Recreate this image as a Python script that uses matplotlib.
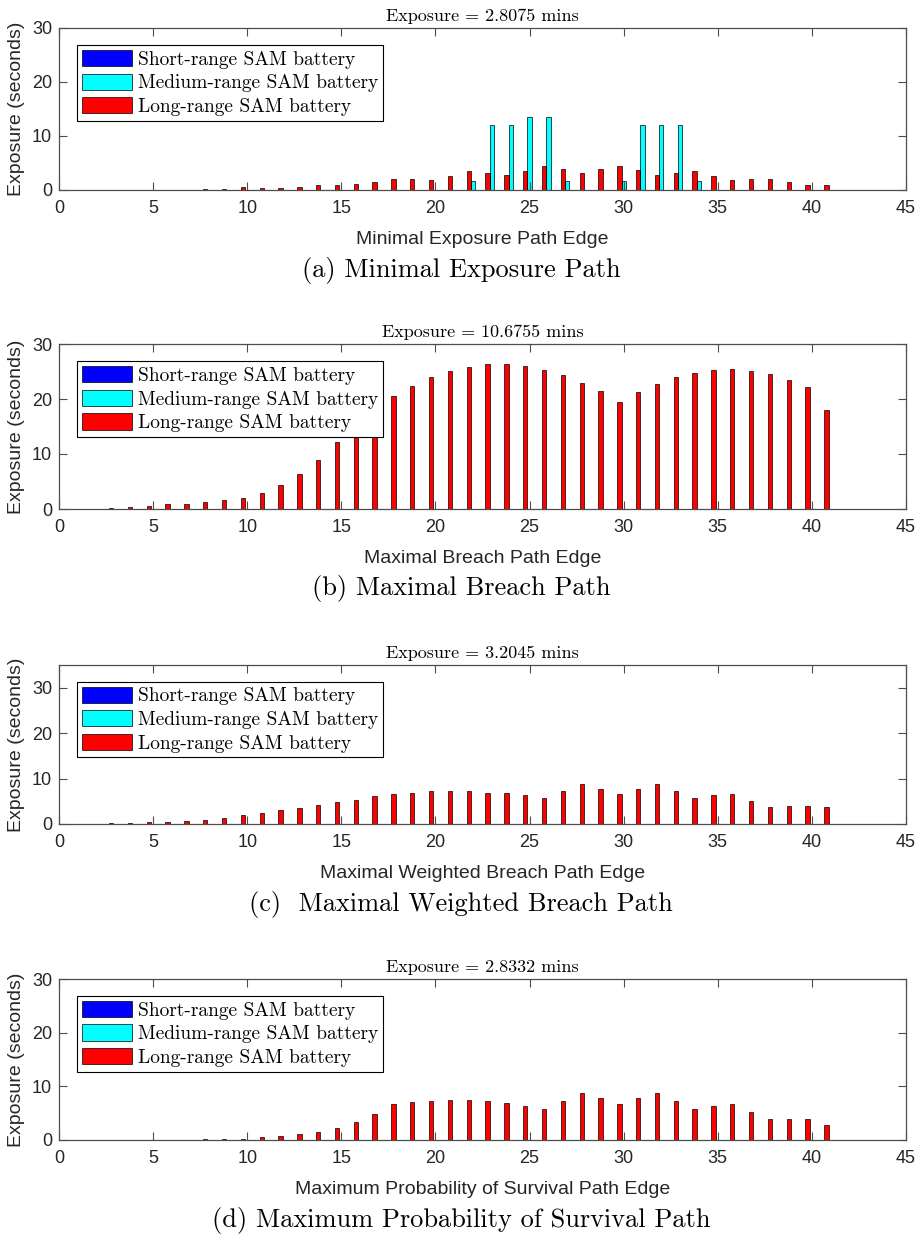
import matplotlib
matplotlib.use("Agg")
import matplotlib.pyplot as plt
import numpy as np

# path edges 1..41
edges = np.arange(1, 42)

series_names = ["Short-range SAM battery", "Medium-range SAM battery", "Long-range SAM battery"]

# (a) minimal exposure path
a_long = [0, 0, 0, 0, 0, 0, 0, 0.25, 0.25, 0.5, 0.45, 0.45, 0.6, 1.0, 1.0, 1.1, 1.5, 2.0, 2.0, 1.9,
          2.65, 3.5, 3.2, 2.85, 3.5, 4.45, 3.85, 3.2, 3.85, 4.45, 3.7, 2.85, 3.2, 3.5, 2.65, 1.9,
          2.0, 2.0, 1.5, 1.0, 1.0]
a_medium = [0, 0, 0, 0, 0, 0, 0, 0, 0, 0, 0, 0, 0, 0, 0, 0, 0, 0, 0, 0,
            0, 1.7, 12.0, 12.0, 13.6, 13.6, 1.7, 0, 0, 1.7, 12.0, 12.0, 12.0, 1.7, 0, 0,
            0, 0, 0, 0, 0]

# (b) maximal breach path
b_long = [0, 0, 0.2, 0.35, 0.6, 0.85, 1.0, 1.35, 1.7, 2.05, 3.0, 4.4, 6.4, 8.9, 12.15, 15.4, 18.0,
          20.6, 22.4, 24.0, 25.1, 25.8, 26.3, 26.3, 25.95, 25.3, 24.4, 22.9, 21.5, 19.5, 21.3,
          22.8, 24.0, 24.7, 25.2, 25.4, 25.1, 24.6, 23.5, 22.2, 18.05]

# (c) maximal weighted breach path
c_long = [0, 0, 0.2, 0.2, 0.35, 0.45, 0.65, 0.9, 1.25, 1.9, 2.35, 3.0, 3.45, 4.1, 4.8, 5.35, 6.1,
          6.55, 6.9, 7.2, 7.35, 7.2, 6.9, 6.75, 6.3, 5.7, 7.2, 8.7, 7.6, 6.55, 7.6, 8.7, 7.2,
          5.7, 6.3, 6.7, 5.0, 3.75, 3.95, 3.95, 3.75]

# (d) maximum probability of survival path
d_long = [0, 0, 0, 0, 0, 0, 0, 0.2, 0.2, 0.25, 0.5, 0.8, 1.2, 1.55, 2.25, 3.35, 4.8, 6.7, 7.05,
          7.25, 7.4, 7.4, 7.25, 6.85, 6.3, 5.75, 7.25, 8.85, 7.8, 6.7, 7.8, 8.85, 7.25, 5.75,
          6.3, 6.7, 5.2, 3.9, 3.9, 3.9, 2.8]

zeros = [0] * len(edges)

titles = ["Exposure = 2.8075 mins", "Exposure = 10.6755 mins",
          "Exposure = 3.2045 mins", "Exposure = 2.8332 mins"]
xlabels = ["Minimal Exposure Path Edge", "Maximal Breach Path Edge",
           "Maximal Weighted Breach Path Edge", "Maximum Probability of Survival Path Edge"]
captions = ["(a) Minimal Exposure Path", "(b) Maximal Breach Path",
            "(c)  Maximal Weighted Breach Path", "(d) Maximum Probability of Survival Path"]
ytops = [30, 30, 35, 30]

panels = [
    (zeros, a_medium, a_long),
    (zeros, zeros, b_long),
    (zeros, zeros, c_long),
    (zeros, zeros, d_long),
]

# pixel layout of the four axes (top, bottom)
W, H = 922, 1238
ax_left, ax_right = 59, 906
ax_rows = [(28, 190), (344, 509), (665, 824), (979, 1140)]

colors = {"short": "#0000ff", "medium": "#00ffff", "long": "#ff0000"}
serif = "cmr10"
sans = "Liberation Sans"
axcol = "#4d4d4d"
txtcol = "#262626"

fig = plt.figure(figsize=(W / 100, H / 100), dpi=100)

bw = 0.23
for i, (short, medium, long_) in enumerate(panels):
    top, bot = ax_rows[i]
    ax = fig.add_axes([ax_left / W, 1 - bot / H, (ax_right - ax_left) / W, (bot - top) / H])

    ax.bar(edges + bw, short, width=bw, color=colors["short"], edgecolor="black",
           linewidth=0.5, label=series_names[0])
    ax.bar(edges, medium, width=bw, color=colors["medium"], edgecolor="black",
           linewidth=0.5, label=series_names[1])
    ax.bar(edges - bw, long_, width=bw, color=colors["long"], edgecolor="black",
           linewidth=0.5, label=series_names[2])

    ax.set_xlim(0, 45)
    ax.set_ylim(0, ytops[i])
    ax.set_xticks(np.arange(0, 46, 5))
    ax.set_yticks(np.arange(0, ytops[i] + 1, 10))
    ax.tick_params(direction="in", top=True, right=True, length=6, width=0.8,
                   colors=axcol, labelcolor=txtcol, labelsize=13, pad=7)
    ax.tick_params(axis="y", pad=5)
    for lbl in ax.get_xticklabels() + ax.get_yticklabels():
        lbl.set_fontfamily(sans)
    for sp in ax.spines.values():
        sp.set_color(axcol)
        sp.set_linewidth(0.9)

    ax.set_title(titles[i], fontfamily=serif, fontsize=13, color="black", pad=5)
    ax.set_xlabel(xlabels[i], fontfamily=sans, fontsize=14, color=txtcol, labelpad=10)
    ax.set_ylabel("Exposure (seconds)", fontfamily=sans, fontsize=14, color=txtcol, labelpad=5)

    leg = ax.legend(loc="upper left", bbox_to_anchor=(0.021, 0.895), borderaxespad=0,
                    prop={"family": serif, "size": 14}, fancybox=False, framealpha=1,
                    edgecolor="black", handlelength=2.6, handleheight=0.9,
                    handletextpad=0.3, labelspacing=0.25, borderpad=0.25)
    leg.get_frame().set_linewidth(0.8)

    fig.text(0.5, 1 - (bot + 80) / H, captions[i], ha="center", va="center",
             fontfamily=serif, fontsize=19)

fig.savefig("out.png", dpi=100, facecolor="white")
